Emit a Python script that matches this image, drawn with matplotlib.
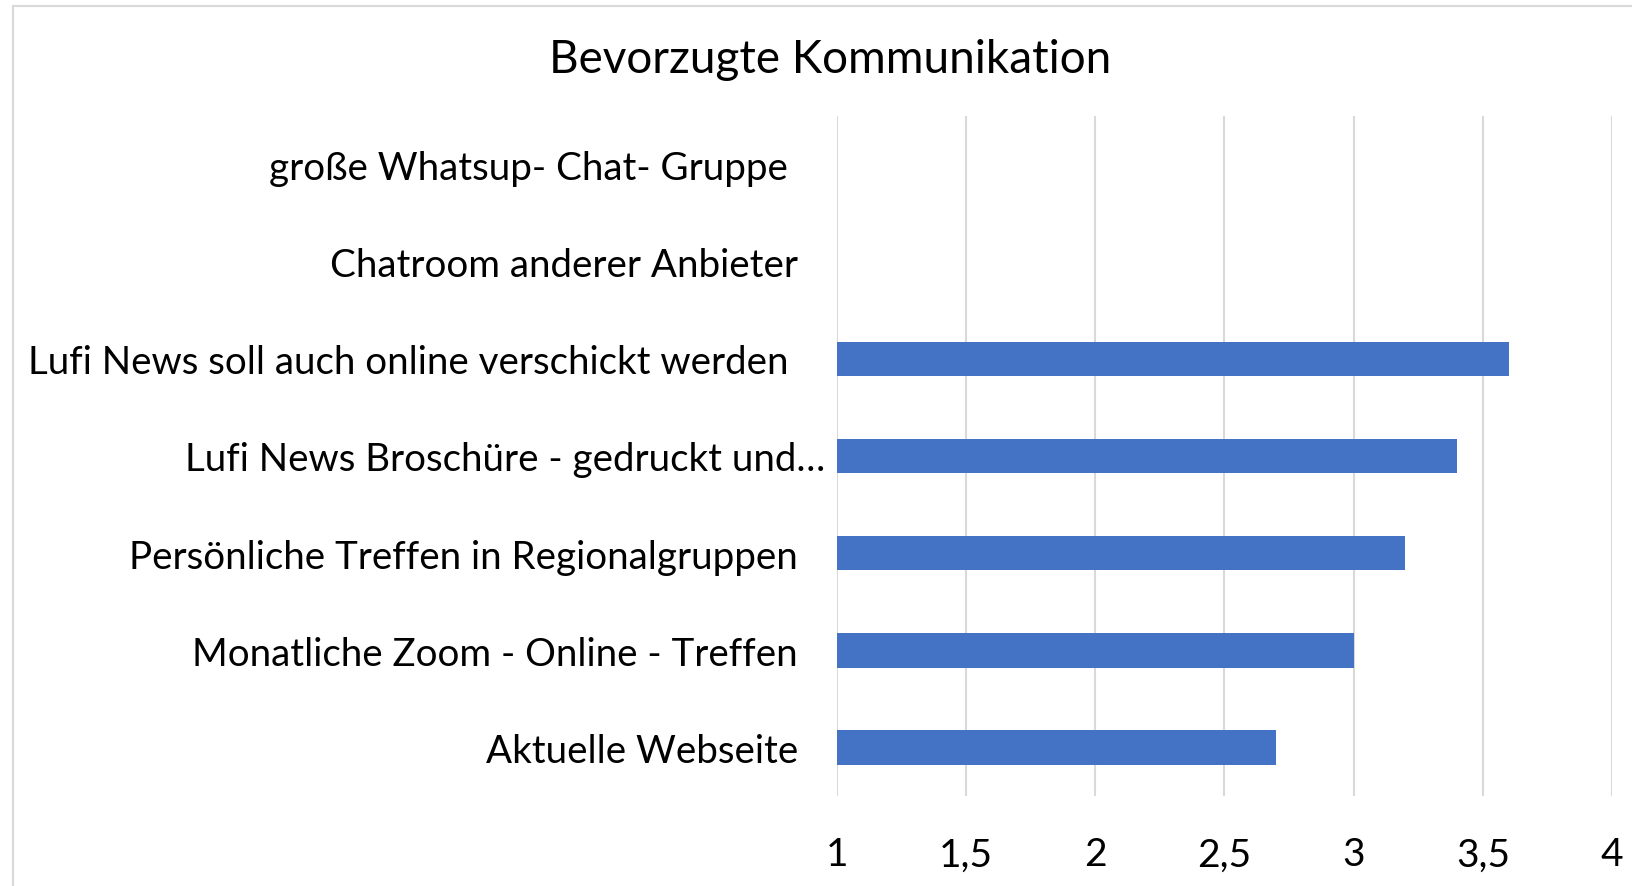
import matplotlib
matplotlib.use("Agg")
import matplotlib.pyplot as plt
from matplotlib.patches import Rectangle
from matplotlib.transforms import ScaledTranslation

# data (bottom -> top)
categories = [
    "Aktuelle Webseite",
    "Monatliche Zoom - Online - Treffen",
    "Persönliche Treffen in Regionalgruppen",
    "Lufi News Broschüre - gedruckt und…",
    "Lufi News soll auch online verschickt werden",
    "Chatroom anderer Anbieter",
    "große Whatsup- Chat- Gruppe",
]
values = [2.7, 3.0, 3.2, 3.4, 3.6, 0, 0]
xticks = [1, 1.5, 2, 2.5, 3, 3.5, 4]
xtick_labels = ["1", "1,5", "2", "2,5", "3", "3,5", "4"]

# Excel shifts some category labels a little (pixels)
label_shift = [0, 0, 0, 27, -10, 0, -10]

plt.rcParams['font.family'] = ['Lato', 'DejaVu Sans']

fig = plt.figure(figsize=(16.33, 8.87), dpi=100)

# light chart border (cropped at right/bottom like the screenshot)
fig.patches.append(Rectangle((13/1633, -0.05), 1.2, 1 - 7/887 + 0.05,
                             transform=fig.transFigure, fill=False,
                             edgecolor='#d9d9d9', linewidth=1.5))

ax = fig.add_axes([837/1633, 1 - 797/887, 775/1633, 680/887])
y = range(len(categories))
ax.barh(y, values, height=0.357, color='#4472C4', zorder=3)

ax.set_xlim(1, 4)
ax.set_ylim(-0.5, len(categories) - 0.5)
ax.set_xticks(xticks)
ax.set_xticklabels(xtick_labels, fontsize=28)
ax.set_yticks(list(y))
ax.set_yticklabels(categories, fontsize=27.7)
ax.tick_params(axis='x', length=0, pad=29)
ax.tick_params(axis='y', length=0, pad=28)
ax.grid(axis='x', color='#d9d9d9', linewidth=1.5, zorder=0)
for s in ax.spines.values():
    s.set_visible(False)

for lab, dx in zip(ax.get_yticklabels(), label_shift):
    lab.set_transform(lab.get_transform() +
                      ScaledTranslation(dx / 100, 0, fig.dpi_scale_trans))

fig.text(830/1633, 1 - 60/887, "Bevorzugte Kommunikation", fontsize=33,
         ha='center', va='center')

fig.savefig("out.png", dpi=100)
